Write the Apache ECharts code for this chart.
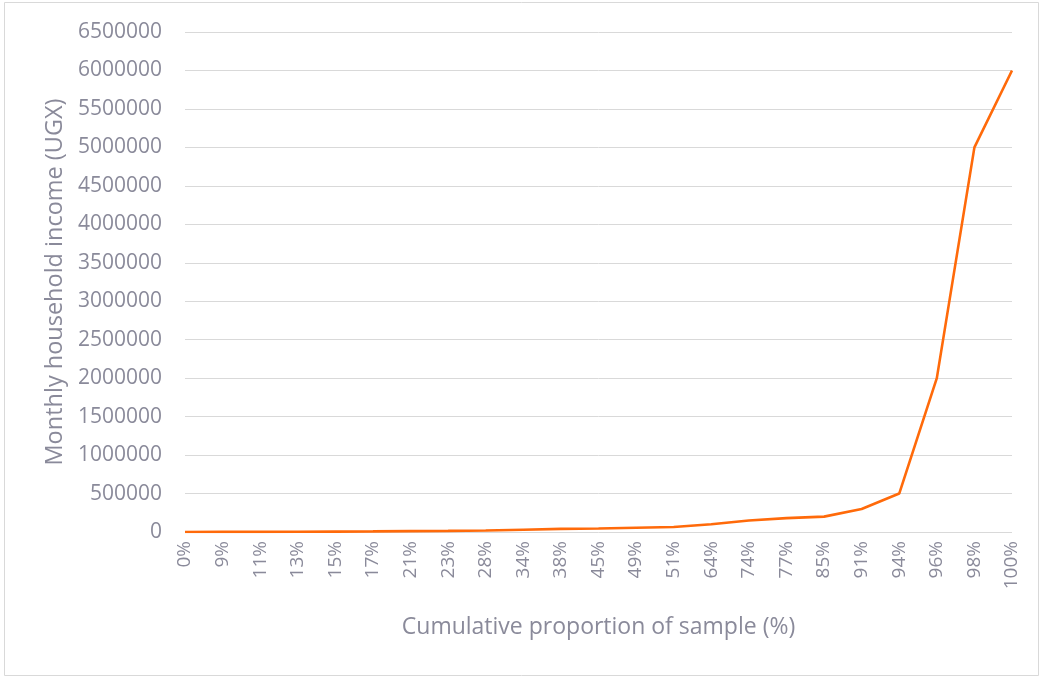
<!DOCTYPE html>
<html>
<head>
<meta charset="utf-8">
<title>Monthly household income by cumulative proportion of sample</title>
<script src="https://cdn.jsdelivr.net/npm/echarts@6/dist/echarts.min.js"></script>
<style>
  html, body { margin: 0; padding: 0; background: #ffffff; }
  #chart { width: 1040px; height: 677px; }
</style>
</head>
<body>
<div id="chart"></div>
<script>
// Cumulative share of the sample (x categories)
const proportions = ['0%', '9%', '11%', '13%', '15%', '17%', '21%', '23%', '28%', '34%', '38%', '45%',
  '49%', '51%', '64%', '74%', '77%', '85%', '91%', '94%', '96%', '98%', '100%'];

// Monthly household income in UGX at each cumulative share
const income = [0, 1000, 2000, 3000, 5000, 8000, 12000, 15000, 20000, 30000, 40000, 45000,
  55000, 65000, 100000, 150000, 180000, 200000, 300000, 500000, 2000000, 5000000, 6000000];

// Value axis range and step
const yMin = 0;
const yMax = 6500000;
const yStep = 500000;

const textColor = '#8a8a9a';
const fontFamily = '"Open Sans", "Noto Sans", sans-serif';

const chart = echarts.init(document.getElementById('chart'));

chart.setOption({
  animation: false,
  backgroundColor: '#ffffff',
  graphic: [{
    type: 'rect',
    shape: { x: 4.5, y: 2.5, width: 1034, height: 673 },
    style: { fill: 'none', stroke: '#d9d9d9', lineWidth: 1 },
    silent: true
  }],
  grid: { left: 185, right: 28, top: 32, bottom: 145, containLabel: false },
  xAxis: {
    type: 'category',
    data: proportions,
    boundaryGap: false,
    name: 'Cumulative proportion of sample (%)',
    nameLocation: 'middle',
    nameGap: 84,
    nameTextStyle: { color: textColor, fontSize: 23, fontFamily: fontFamily },
    axisLine: { show: false },
    axisTick: { show: false },
    axisLabel: {
      rotate: 90,
      margin: 9,
      interval: 0,
      color: textColor,
      fontSize: 19,
      fontFamily: fontFamily
    },
    splitLine: { show: false }
  },
  yAxis: {
    type: 'value',
    min: yMin,
    max: yMax,
    interval: yStep,
    name: 'Monthly household income (UGX)',
    nameLocation: 'middle',
    nameGap: 117,
    nameTextStyle: { color: textColor, fontSize: 23.5, fontFamily: fontFamily },
    axisLine: { show: false },
    axisTick: { show: false },
    axisLabel: {
      margin: 23,
      color: textColor,
      fontSize: 21,
      fontFamily: fontFamily,
      formatter: function (v) { return String(v); }
    },
    splitLine: { lineStyle: { color: '#d9d9d9', width: 1 } }
  },
  series: [{
    type: 'line',
    data: income,
    showSymbol: false,
    symbol: 'none',
    lineStyle: { color: '#ff6a0a', width: 2.6 },
    itemStyle: { color: '#ff6a0a' }
  }]
});
</script>
</body>
</html>
